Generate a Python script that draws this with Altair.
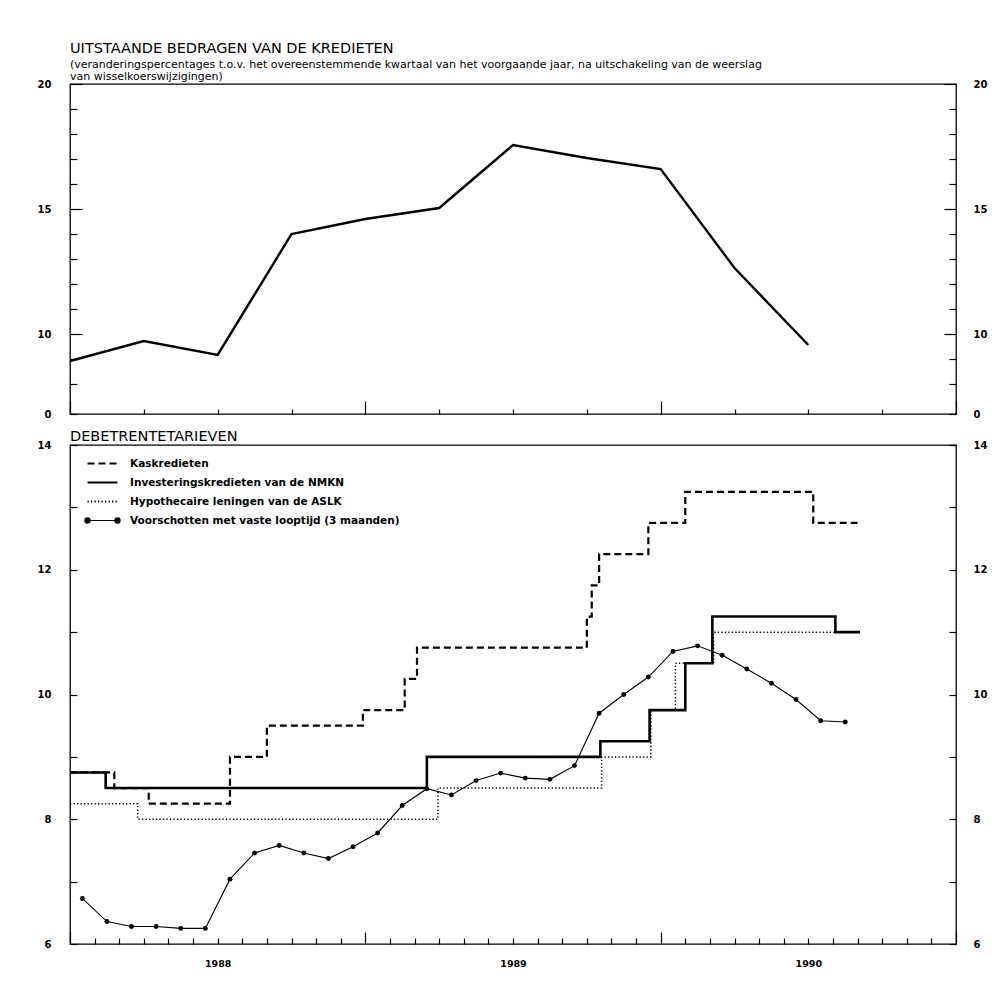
import altair as alt
import pandas as pd

FONT = "DejaVu Sans"

# ---------------- data ----------------
# x = months since 1 January 1988
top_t = [0, 3, 6, 9, 12, 15, 18, 21, 24, 27, 30]
top_v = [8.92, 9.72, 9.16, 14.0, 14.6, 15.04, 17.56, 17.04, 16.6, 12.64, 9.56]

series_names = [
    "Kaskredieten",
    "Investeringskredieten van de NMKN",
    "Hypothecaire leningen van de ASLK",
    "Voorschotten met vaste looptijd (3 maanden)",
]

kas_t = [0, 1.8, 3.2, 6.5, 8.0, 11.9, 13.6, 14.1, 21.0, 21.2, 21.5, 23.5, 25.0, 30.2, 32.0]
kas_v = [8.75, 8.5, 8.25, 9.0, 9.5, 9.75, 10.25, 10.75, 11.25, 11.75, 12.25, 12.75, 13.25, 12.75, 12.75]

inv_t = [0, 1.45, 14.5, 21.55, 23.55, 25.0, 26.1, 31.1, 32.1]
inv_v = [8.75, 8.5, 9.0, 9.25, 9.75, 10.5, 11.25, 11.0, 11.0]

hyp_t = [0, 2.75, 14.95, 21.6, 23.6, 24.6, 26.15, 32.1]
hyp_v = [8.25, 8.0, 8.5, 9.0, 9.75, 10.5, 11.0, 11.0]

vs_t = [0.5, 1.5, 2.5, 3.5, 4.5, 5.5, 6.5, 7.5, 8.5, 9.5, 10.5, 11.5, 12.5, 13.5, 14.5, 15.5,
        16.5, 17.5, 18.5, 19.5, 20.5, 21.5, 22.5, 23.5, 24.5, 25.5, 26.5, 27.5, 28.5, 29.5, 30.5, 31.5]
vs_v = [6.73, 6.36, 6.28, 6.28, 6.25, 6.25, 7.04, 7.46, 7.58, 7.46, 7.37, 7.56, 7.78, 8.22, 8.49, 8.39,
        8.62, 8.74, 8.66, 8.64, 8.86, 9.70, 10.00, 10.28, 10.69, 10.78, 10.63, 10.41, 10.18, 9.92, 9.58, 9.56]

# ticks / labels
quarter_ticks = [0, 3, 6, 9, 12, 15, 18, 21, 24, 27, 30, 33, 36]
month_ticks = list(range(0, 37))
year_pos = [6, 18, 30]
year_labels = ["1988", "1989", "1990"]
top_y_ticks = [6.8, 8, 9, 10, 11, 12, 13, 14, 15, 16, 17, 18, 19, 20]
top_y_bottom_label = "0"
bot_y_ticks = [6, 7, 8, 9, 10, 11, 12, 13, 14]

# ---------------- frames ----------------
top_df = pd.DataFrame({"t": top_t, "v": top_v})
step_df = pd.concat([
    pd.DataFrame({"t": kas_t, "v": kas_v, "series": series_names[0]}),
    pd.DataFrame({"t": inv_t, "v": inv_v, "series": series_names[1]}),
    pd.DataFrame({"t": hyp_t, "v": hyp_v, "series": series_names[2]}),
])
vs_df = pd.DataFrame({"t": vs_t, "v": vs_v, "series": series_names[3]})

W = 886
H_TOP = 330
H_BOT = 499

x_scale = alt.Scale(domain=[0, 36], nice=False, zero=False)
top_y_scale = alt.Scale(domain=[6.8, 20], nice=False, zero=False)
bot_y_scale = alt.Scale(domain=[6, 14], nice=False, zero=False)


def dash_cond(test, major, minor):
    return {"condition": {"test": test, "value": [major, 3000]}, "value": [minor, 3000]}


GRID = dict(grid=True, gridColor="black", gridWidth=1.2, gridOpacity=1)
NOLINE = dict(ticks=False, tickSize=0, domain=False, title=None, labelOverlap=False, labelFlush=False)
LAB = dict(labelFont=FONT, labelFontSize=10, labelFontWeight="bold", labelColor="black")

top_x_axis = alt.Axis(orient="top", values=quarter_ticks, labels=False,
                      gridDash=dash_cond("datum.value % 12 === 0", 13, 5), **GRID, **NOLINE)
bot_x_tick_axis = alt.Axis(orient="top", values=month_ticks, labels=False,
                           gridDash=dash_cond("datum.value % 12 === 0", 12, 6), **GRID, **NOLINE)
year_expr = " : ".join(f"datum.value == {p} ? '{l}'" for p, l in zip(year_pos, year_labels)) + " : ''"
bot_x_label_axis = alt.Axis(orient="bottom", values=year_pos, labelExpr=year_expr, grid=False,
                            labelPadding=14, **NOLINE,
                            **{**LAB, "labelFontSize": 9.5})

top_y_expr = (f"datum.value == {top_y_ticks[0]} ? '{top_y_bottom_label}' : "
              "(datum.value % 5 == 0 ? datum.label : '')")
top_y_left = alt.Axis(orient="left", values=top_y_ticks, labelExpr=top_y_expr, labelPadding=19,
                      gridDash=dash_cond("datum.value % 5 === 0", 12, 7), **GRID, **NOLINE, **LAB)
top_y_right = alt.Axis(orient="right", values=top_y_ticks, labelExpr=top_y_expr, labelPadding=17,
                       gridDash=dash_cond("datum.value % 5 === 0", 12, 7), **GRID, **NOLINE, **LAB)

bot_y_expr = "datum.value % 2 == 0 ? datum.label : ''"
bot_y_left = alt.Axis(orient="left", values=bot_y_ticks, labelExpr=bot_y_expr, labelPadding=19,
                      gridDash=[7, 3000], **GRID, **NOLINE, **LAB)
bot_y_right = alt.Axis(orient="right", values=bot_y_ticks, labelExpr=bot_y_expr, labelPadding=17,
                       gridDash=[7, 3000], **GRID, **NOLINE, **LAB)

TITLE_STYLE = dict(anchor="start", frame="group", font=FONT, fontSize=14.5, fontWeight="normal",
                   color="black")

# ---------------- top panel ----------------
top_line = alt.Chart(top_df).mark_line(color="black", strokeWidth=2.4).encode(
    x=alt.X("t:Q", scale=x_scale, axis=top_x_axis),
    y=alt.Y("v:Q", scale=top_y_scale, axis=top_y_left),
)
top_ghost = alt.Chart(top_df).mark_line(color="black", strokeOpacity=0).encode(
    x=alt.X("t:Q", scale=x_scale, axis=None),
    y=alt.Y("v:Q", scale=top_y_scale, axis=top_y_right),
)
top = alt.layer(top_line, top_ghost).resolve_axis(x="independent", y="independent").properties(
    width=W, height=H_TOP,
    title=alt.TitleParams(
        text="UITSTAANDE BEDRAGEN VAN DE KREDIETEN",
        subtitle=[
            "(veranderingspercentages t.o.v. het overeenstemmende kwartaal van het voorgaande jaar, na uitschakeling van de weerslag",
            "van wisselkoerswijzigingen)",
        ],
        subtitleFont=FONT, subtitleFontSize=11, subtitleColor="black", subtitlePadding=3,
        subtitleLineHeight=12, offset=-4, **TITLE_STYLE),
)

# ---------------- bottom panel ----------------
LINE_PATH = "M-2,0H2"
LINE_DOTS_PATH = ("M-2,0H2M-2.35,0a0.35,0.35 0 1,0 0.7,0a0.35,0.35 0 1,0 -0.7,0"
                  "M1.65,0a0.35,0.35 0 1,0 0.7,0a0.35,0.35 0 1,0 -0.7,0")
LEG_X = 24
LEG_Y = 10
ROW_STEP = 19

LEG_COMMON = dict(title=None, orient="none", direction="vertical", symbolSize=225,
                  symbolStrokeColor="black", labelFont=FONT, labelFontSize=10.5,
                  labelFontWeight="bold", labelColor="black", labelLimit=450,
                  labelOffset=19, rowPadding=5, padding=0, legendX=LEG_X)

line_legend = alt.Legend(symbolType=LINE_PATH, legendY=LEG_Y, symbolStrokeWidth=1.9, **LEG_COMMON)
dots_legend = alt.Legend(symbolType=LINE_DOTS_PATH, legendY=LEG_Y + 3 * ROW_STEP,
                         symbolFillColor="black", symbolStrokeWidth=1.1, **LEG_COMMON)

dash_scale = alt.Scale(domain=series_names[:3], range=[[7, 4], [1, 0], [1.3, 2.2]])

# line width per series (style only)
step_width = alt.StrokeWidthValue(
    value=1.5,
    condition=[
        {"test": f"datum.series === '{series_names[0]}'", "value": 2.2},
        {"test": f"datum.series === '{series_names[1]}'", "value": 2.6},
    ],
)

steps = alt.Chart(step_df).mark_line(color="black", interpolate="step-after").encode(
    x=alt.X("t:Q", scale=x_scale, axis=bot_x_tick_axis),
    y=alt.Y("v:Q", scale=bot_y_scale, axis=bot_y_left),
    strokeDash=alt.StrokeDash("series:N", scale=dash_scale, legend=line_legend),
    strokeWidth=step_width,
)
vs_line = alt.Chart(vs_df).mark_line(color="black", strokeWidth=1.1).encode(
    x=alt.X("t:Q", scale=x_scale, axis=bot_x_label_axis),
    y=alt.Y("v:Q", scale=bot_y_scale, axis=bot_y_right),
)
vs_pts = alt.Chart(vs_df).mark_point(filled=True, size=24, opacity=1).encode(
    x=alt.X("t:Q", scale=x_scale, axis=None),
    y=alt.Y("v:Q", scale=bot_y_scale, axis=None),
    fill=alt.Fill("series:N", scale=alt.Scale(domain=[series_names[3]], range=["black"]),
                  legend=dots_legend),
)
bottom = alt.layer(steps, vs_line, vs_pts).resolve_axis(x="independent", y="independent").properties(
    width=W, height=H_BOT,
    title=alt.TitleParams(text="DEBETRENTETARIEVEN", offset=-4, **TITLE_STYLE),
)

chart = alt.vconcat(top, bottom, spacing=7).resolve_legend(
    strokeDash="independent", fill="independent"
).properties(
    padding={"left": 28, "top": 31, "right": 5, "bottom": 5},
    background="white",
).configure_view(stroke="black", strokeWidth=1.3)

chart.save("out.html", embed_options={"renderer": "svg", "actions": False})
